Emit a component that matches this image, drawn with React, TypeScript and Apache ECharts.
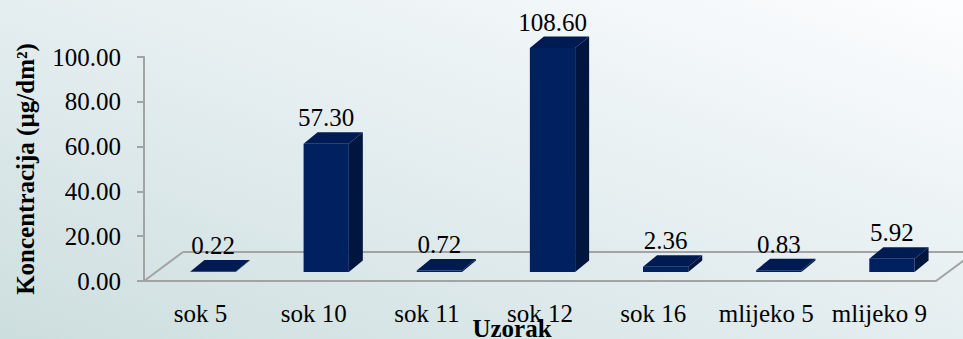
import React, { useEffect, useRef } from "react";
import * as echarts from "echarts";

const categories = ["sok 5", "sok 10", "sok 11", "sok 12", "sok 16", "mlijeko 5", "mlijeko 9"];
const values = [0.22, 57.3, 0.72, 108.6, 2.36, 0.83, 5.92];
const yTicks = [0, 20, 40, 60, 80, 100];
const yMin = 0;
const yMax = 100;
const yInterval = 20;

const FONT = "Liberation Serif";

export default function App() {
  const ref = useRef<HTMLDivElement>(null);
  useEffect(() => {
    if (!ref.current) return;
    const chart = echarts.init(ref.current, undefined, { renderer: "svg" });
    const floorDX = 39, floorDY = -29;
    const barOffX = 12.5, barOffY = -9;
    const barDX = 14, barDY = -11.5;

    const option: any = {
      animation: false,
      textStyle: { fontFamily: FONT },
      backgroundColor: {
        type: "linear", x: 0, y: 1, x2: 1, y2: 0,
        colorStops: [
          { offset: 0, color: "#cddede" },
          { offset: 0.45, color: "#e2ecee" },
          { offset: 1, color: "#fcfdfe" },
        ],
      },
      grid: { left: 144, right: 27, top: 57, bottom: 58, containLabel: false, outerBoundsMode: "none" },
      xAxis: {
        type: "category",
        data: categories,
        boundaryGap: true,
        axisLine: { show: true, lineStyle: { color: "#a3a3a3", width: 2 } },
        axisTick: { show: false },
        axisLabel: { color: "#000", fontFamily: FONT, fontSize: 25, margin: 20, interval: 0 },
        name: "Uzorak",
        nameLocation: "middle",
        nameGap: 35,
        nameMoveOverlap: false,
        nameTextStyle: { color: "#000", fontFamily: FONT, fontSize: 25, fontWeight: "bold", padding: [0, 56, 0, 0] },
      },
      yAxis: {
        type: "value",
        min: yMin,
        max: yMax,
        interval: yInterval,
        axisLine: { show: true, lineStyle: { color: "#a3a3a3", width: 2 } },
        axisTick: { show: true, length: 7, lineStyle: { color: "#a3a3a3", width: 2 } },
        splitLine: { show: false },
        axisLabel: {
          color: "#000", fontFamily: FONT, fontSize: 25, margin: 23,
          formatter: (v: number) => (yTicks.indexOf(v) >= 0 ? v.toFixed(2) : ""),
        },
        name: "Koncentracija (µg/dm²)",
        nameLocation: "middle",
        nameGap: 106,
        nameRotate: 90,
        nameMoveOverlap: false,
        nameTextStyle: { color: "#000", fontFamily: FONT, fontSize: 25, fontWeight: "bold" },
      },
      series: [
        {
          type: "custom",
          silent: true,
          z: 1,
          data: [[0, 0]],
          renderItem: (params: any, api: any) => {
            const cs = params.coordSys;
            const x0 = cs.x, x1 = cs.x + cs.width, y0 = cs.y + cs.height;
            const ls = { stroke: "#a3a3a3", lineWidth: 2, fill: null };
            return {
              type: "group",
              children: [
                { type: "line", shape: { x1: x0, y1: y0, x2: x0 + floorDX, y2: y0 + floorDY }, style: ls },
                { type: "line", shape: { x1: x0 + floorDX, y1: y0 + floorDY, x2: x1 + floorDX, y2: y0 + floorDY }, style: ls },
                { type: "line", shape: { x1: x1, y1: y0, x2: x1 + floorDX, y2: y0 + floorDY }, style: ls },
              ],
            };
          },
        },
        {
          type: "custom",
          z: 5,
          data: values.map((v, i) => [i, v]),
          renderItem: (params: any, api: any) => {
            const i = api.value(0);
            const v = api.value(1);
            const vc = Math.min(v, yMax);
            const base = api.coord([i, 0]);
            const top = api.coord([i, vc]);
            const w = api.size([1, 0])[0] * 0.4;
            const xl = base[0] - w / 2 + barOffX;
            const xr = base[0] + w / 2 + barOffX;
            const yb = base[1] + barOffY;
            const yt = top[1] + barOffY;
            const front = [[xl, yb], [xr, yb], [xr, yt], [xl, yt]];
            const side = [[xr, yb], [xr + barDX, yb + barDY], [xr + barDX, yt + barDY], [xr, yt]];
            const topFace = [[xl, yt], [xr, yt], [xr + barDX, yt + barDY], [xl + barDX, yt + barDY]];
            return {
              type: "group",
              children: [
                { type: "polygon", shape: { points: front }, style: { fill: "#002060" } },
                { type: "polygon", shape: { points: side }, style: { fill: "#00163f" } },
                { type: "polygon", shape: { points: topFace }, style: { fill: "#001b52" } },
                {
                  type: "text",
                  style: {
                    text: v.toFixed(2),
                    x: (xl + xr) / 2,
                    y: yt + barDY - 14.5,
                    align: "center",
                    verticalAlign: "middle",
                    fill: "#000",
                    fontFamily: FONT,
                    fontSize: 25,
                  },
                },
              ],
            };
          },
        },
      ],
    };
    chart.setOption(option);
    return () => chart.dispose();
  }, []);
  return <div ref={ref} style={{ width: 963, height: 339, position: "fixed", left: 0, top: 0 }} />;
}
